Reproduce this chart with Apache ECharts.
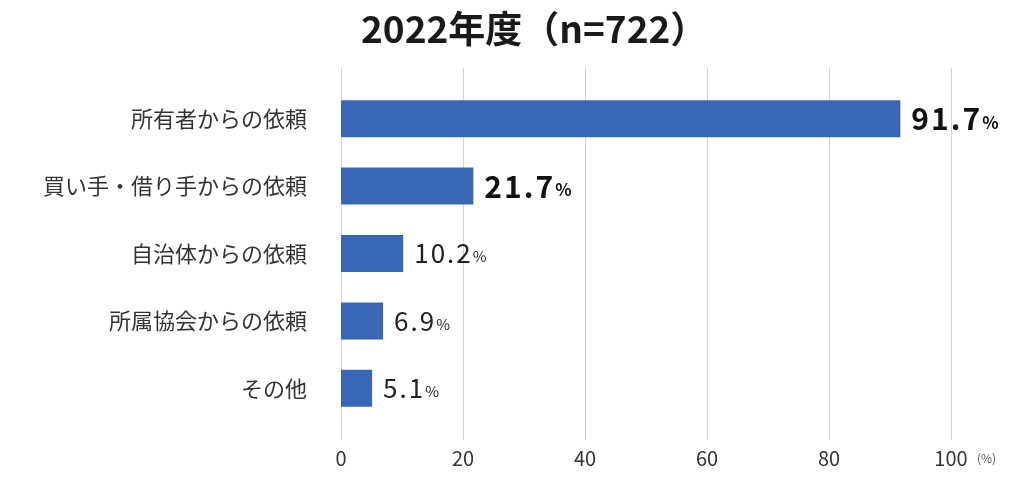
<!DOCTYPE html>
<html>
<head>
<meta charset="utf-8">
<script src="https://cdn.jsdelivr.net/npm/echarts@6/dist/echarts.min.js"></script>
<style>
html,body{margin:0;padding:0;background:#fff;}
#c{width:1023px;height:484px;}
</style>
</head>
<body>
<div id="c"></div>
<script>
var titleText = '2022年度（n=722）';
var categories = ['所有者からの依頼', '買い手・借り手からの依頼', '自治体からの依頼', '所属協会からの依頼', 'その他'];
var values = [91.7, 21.7, 10.2, 6.9, 5.1];
var xTicks = [0, 20, 40, 60, 80, 100];
var unitLabel = '(%)';

var FONT = '"Noto Sans CJK JP", "Noto Sans", sans-serif';
var chart = echarts.init(document.getElementById('c'), null, {renderer: 'canvas'});

function spaced(str, tag) {
  return str.split('').map(function (ch) { return '{' + tag + '|' + ch + '}'; }).join('');
}

var option = {
  backgroundColor: '#ffffff',
  animation: false,
  title: {
    text: titleText,
    left: 356,
    top: 5,
    padding: [5, 0, 5, 5],
    textStyle: {fontFamily: FONT, fontSize: 37, fontWeight: 'bold', color: '#1a1a1a'}
  },
  graphic: [{
    type: 'text', left: 977, top: 452,
    style: {text: unitLabel, fontFamily: FONT, fontSize: 12, fill: '#555'}
  }],
  grid: [
    {left: 341, right: 72, top: 68, bottom: 44, containLabel: false},
    {left: 341, right: 72, top: 85, bottom: 62, containLabel: false}
  ],
  xAxis: [
    {
      gridIndex: 0, type: 'value', min: xTicks[0], max: xTicks[xTicks.length - 1], interval: xTicks[1] - xTicks[0],
      axisLine: {show: false}, axisTick: {show: false},
      splitLine: {show: true, lineStyle: {color: '#d4d4d4', width: 1}},
      axisLabel: {fontFamily: FONT, fontSize: 20, color: '#333', margin: 8}
    },
    {gridIndex: 1, type: 'value', min: xTicks[0], max: xTicks[xTicks.length - 1], show: false}
  ],
  yAxis: [
    {gridIndex: 0, type: 'value', show: false},
    {
      gridIndex: 1, type: 'category', data: categories, inverse: true,
      axisLine: {show: false}, axisTick: {show: false}, splitLine: {show: false},
      axisLabel: {fontFamily: FONT, fontSize: 22, color: '#333', margin: 34}
    }
  ],
  series: [{
    type: 'bar',
    xAxisIndex: 1, yAxisIndex: 1,
    data: values,
    barWidth: 37,
    itemStyle: {color: '#3a67b5'},
    label: {
      show: true, position: 'right', distance: 11,
      formatter: function (p) {
        var v = p.value.toFixed(1);
        return p.dataIndex < 2 ? spaced(v, 'b') + '{bp|%}' : spaced(v, 'n') + '{np|%}';
      },
      rich: {
        b: {fontFamily: FONT, fontSize: 30, fontWeight: 'bold', color: '#111', padding: [0, 2, 0, 0]},
        bp: {fontFamily: FONT, fontSize: 17, fontWeight: 'bold', color: '#111', padding: [7, 0, 0, 0]},
        n: {fontFamily: FONT, fontSize: 26, color: '#222', padding: [0, 2, 0, 0]},
        np: {fontFamily: FONT, fontSize: 15, color: '#222', padding: [6, 0, 0, 0]}
      }
    }
  }]
};
chart.setOption(option);
</script>
</body>
</html>
